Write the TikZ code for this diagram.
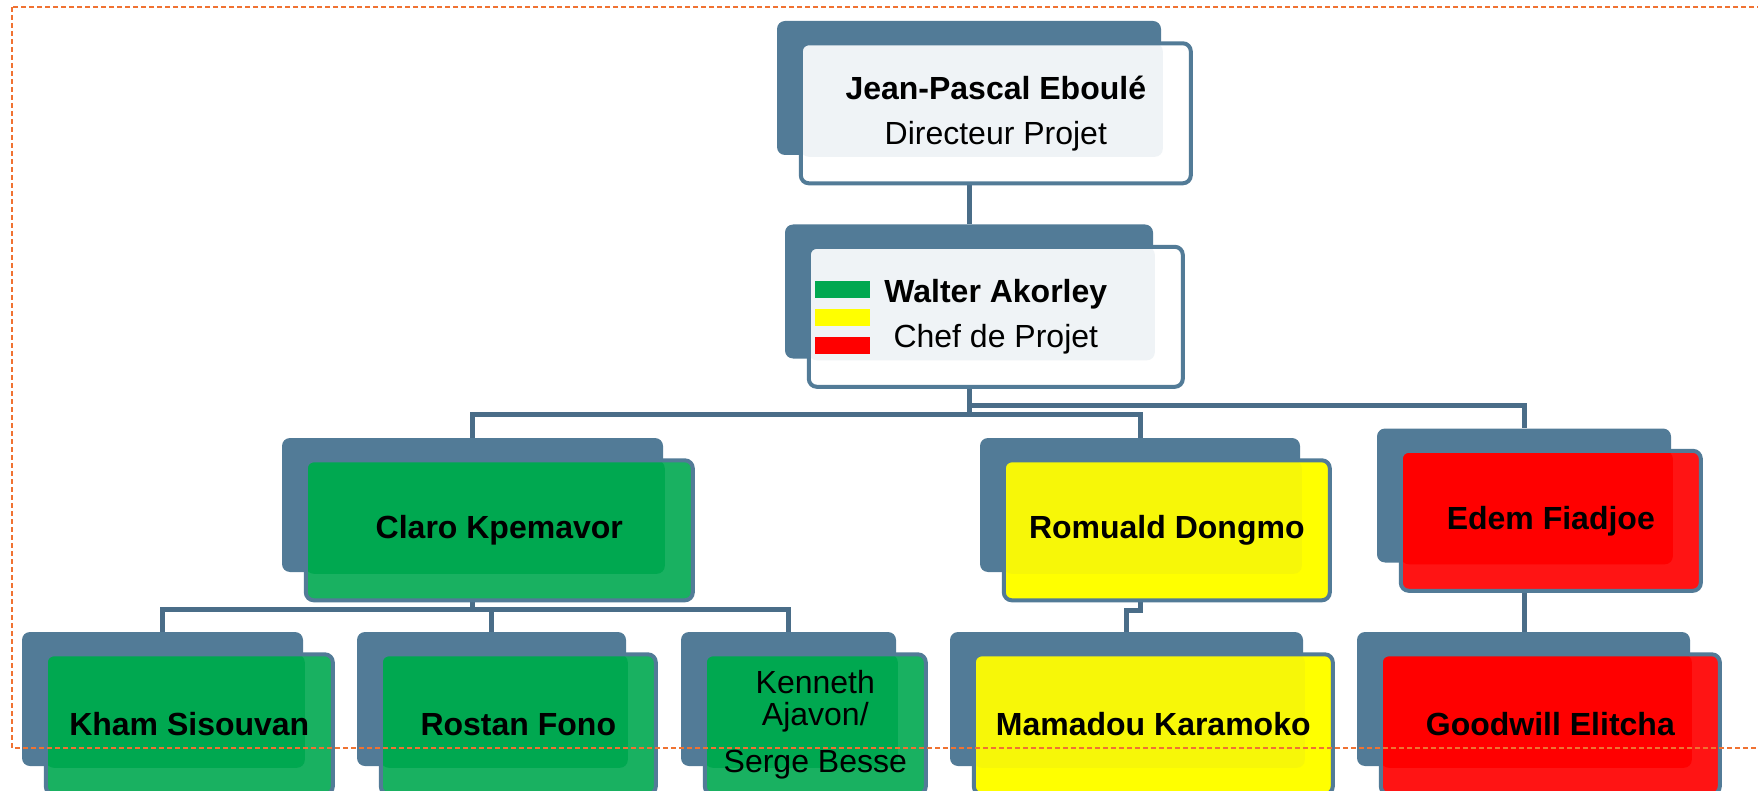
\documentclass[tikz,border=0pt]{standalone}
\usepackage{fontspec}
\setmainfont{Liberation Sans}
\usetikzlibrary{positioning,backgrounds}
\definecolor{shadowblue}{HTML}{527B97}
\definecolor{linkblue}{HTML}{4A6D88}
\definecolor{teamgreen}{HTML}{00A850}
\definecolor{teamyellow}{HTML}{FFFF00}
\definecolor{teamred}{HTML}{FF0000}
\definecolor{frameorange}{HTML}{F07232}
\begin{document}
\begin{tikzpicture}[
    x=1pt, y=-1pt,
    back/.style={fill=shadowblue, rounded corners=8pt, minimum height=134pt, inner sep=0pt},
    card/.style={draw=shadowblue, line width=4pt, rounded corners=8pt, minimum height=140pt,
      inner sep=0pt, align=center, font=\bfseries\fontsize{32}{45}\selectfont,
      below right=20.5pt and 22pt of #1.north west},
    tint/.style={path picture={\fill[#1, rounded corners=8pt] (path picture bounding box.north west)
      rectangle ([shift={(-28pt,26.5pt)}]path picture bounding box.south east);}},
    link/.style={draw=linkblue, line width=5pt},
    frame/.style={draw=frameorange, line width=2pt, dash pattern=on 5pt off 3pt}
  ]
  \useasboundingbox (0,0) rectangle (1758,791);

  % top
  \node[back, minimum width=384pt] (jean) at (969,88) {};
  \node[card=jean, fill=white, tint=shadowblue!9!white, minimum width=390pt] (jeanF)
    {Jean-Pascal Eboulé\\{\mdseries Directeur Projet}};

  \node[back, minimum width=368pt] (walter) at (969,291.5) {};
  \node[card=walter, fill=white, tint=shadowblue!9!white, minimum width=374pt] (walterF)
    {Walter Akorley\\{\mdseries Chef de Projet}};
  \fill[teamgreen] ([shift={(8,36)}]walterF.north west) rectangle +(55,17);
  \fill[teamyellow] ([shift={(8,64)}]walterF.north west) rectangle +(55,17);
  \fill[teamred] ([shift={(8,92)}]walterF.north west) rectangle +(55,17);

  % second level
  \node[back, minimum width=381pt] (claro) at (472.5,505) {};
  \node[card=claro, fill=teamgreen!90!white, tint=teamgreen, minimum width=387pt] (claroF) {Claro Kpemavor};

  \node[back, minimum width=320pt] (romuald) at (1140,505) {};
  \node[card=romuald, fill=teamyellow, tint=teamyellow!94!gray, minimum width=326pt] (romualdF) {Romuald Dongmo};

  \node[back, minimum width=294pt] (edem) at (1524,495.5) {};
  \node[card=edem, fill=teamred!92!white, tint=teamred, minimum width=300pt] (edemF) {Edem Fiadjoe};

  % third level
  \node[back, minimum width=281pt] (kham) at (162.5,699) {};
  \node[card=kham, fill=teamgreen!90!white, tint=teamgreen, minimum width=287pt] (khamF) {Kham Sisouvan};

  \node[back, minimum width=269pt] (rostan) at (491.5,699) {};
  \node[card=rostan, fill=teamgreen!90!white, tint=teamgreen, minimum width=275pt] (rostanF) {Rostan Fono};

  \node[back, minimum width=215pt] (kenneth) at (788.5,699) {};
  \node[card=kenneth, fill=teamgreen!90!white, tint=teamgreen, minimum width=221pt,
    font=\fontsize{32}{32}\selectfont] (kennethF) {Kenneth\\Ajavon/\\[15pt]Serge Besse};

  \node[back, minimum width=353pt] (mamadou) at (1126.5,699) {};
  \node[card=mamadou, fill=teamyellow, tint=teamyellow!94!gray, minimum width=359pt] (mamadouF) {Mamadou Karamoko};

  \node[back, minimum width=333pt] (goodwill) at (1523.5,699) {};
  \node[card=goodwill, fill=teamred!92!white, tint=teamred, minimum width=339pt] (goodwillF) {Goodwill Elitcha};

  % connectors
  \begin{scope}[on background layer]
    \draw[link] (jean.south) -- (walter.north);
    \draw[link] (walter.south) -- ++(0,56) -| (claro.north);
    \draw[link] (walter.south) -- ++(0,56) -| (romuald.north);
    \draw[link] (walter.south) -- ++(0,47) -| (edem.north);
    \draw[link] (claro.south) -- ++(0,37) -| (kham.north);
    \draw[link] (claro.south) -- ++(0,37) -| (rostan.north);
    \draw[link] (claro.south) -- ++(0,37) -| (kenneth.north);
    \draw[link] (romuald.south) -- ++(0,38) -| (mamadou.north);
    \draw[link] (edem.south) -- (edem.south |- goodwill.north);
  \end{scope}

  \draw[frame] (12,7) rectangle (1762,748);
\end{tikzpicture}
\end{document}
